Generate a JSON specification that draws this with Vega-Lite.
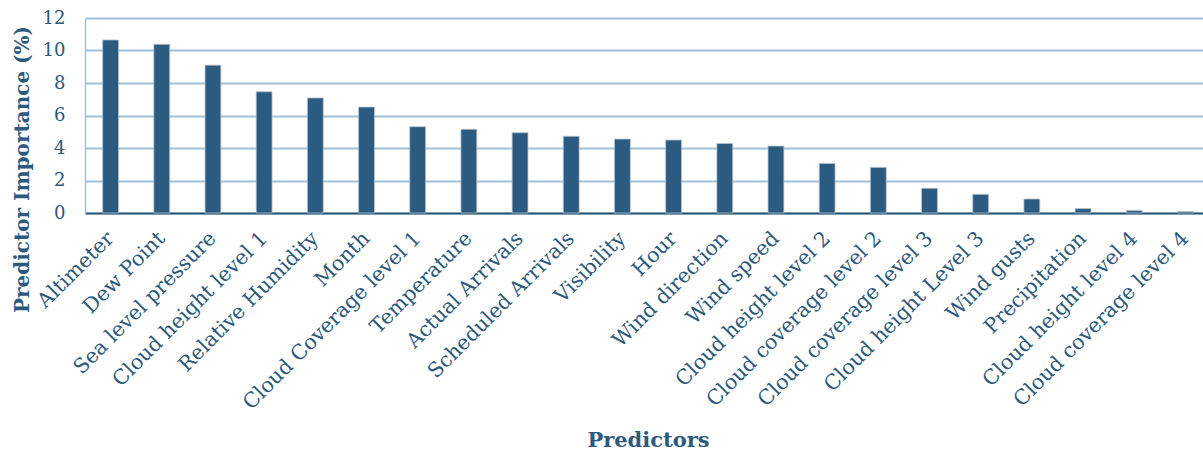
{
  "$schema": "https://vega.github.io/schema/vega-lite/v6.json",
  "width": 1126,
  "height": 195,
  "autosize": "none",
  "padding": {"left": 85, "top": 18, "right": 0, "bottom": 238},
  "background": "white",
  "config": {
    "view": {"stroke": null},
    "font": "DejaVu Serif"
  },
  "data": {
    "values": [
      {"predictor": "Altimeter", "importance": 10.65},
      {"predictor": "Dew Point", "importance": 10.38},
      {"predictor": "Sea level pressure", "importance": 9.1},
      {"predictor": "Cloud height level 1", "importance": 7.46},
      {"predictor": "Relative Humidity", "importance": 7.08},
      {"predictor": "Month", "importance": 6.52},
      {"predictor": "Cloud Coverage level 1", "importance": 5.31},
      {"predictor": "Temperature", "importance": 5.15},
      {"predictor": "Actual Arrivals", "importance": 4.94},
      {"predictor": "Scheduled Arrivals", "importance": 4.72},
      {"predictor": "Visibility", "importance": 4.55},
      {"predictor": "Hour", "importance": 4.49},
      {"predictor": "Wind direction", "importance": 4.28},
      {"predictor": "Wind speed", "importance": 4.12},
      {"predictor": "Cloud height level 2", "importance": 3.05},
      {"predictor": "Cloud coverage level 2", "importance": 2.81},
      {"predictor": "Cloud coverage level 3", "importance": 1.52},
      {"predictor": "Cloud height Level 3", "importance": 1.15},
      {"predictor": "Wind gusts", "importance": 0.86},
      {"predictor": "Precipitation", "importance": 0.27},
      {"predictor": "Cloud height level 4", "importance": 0.15},
      {"predictor": "Cloud coverage level 4", "importance": 0.09}
    ]
  },
  "mark": {"type": "bar", "color": "#2b5b80", "stroke": "#b9c2cb", "strokeWidth": 0.8},
  "encoding": {
    "x": {
      "field": "predictor",
      "type": "nominal",
      "sort": null,
      "scale": {"paddingInner": 0.69, "paddingOuter": 0.345},
      "axis": {
        "title": "Predictors",
        "titleFont": "DejaVu Serif",
        "titleFontSize": 21,
        "titleFontWeight": "bold",
        "titleColor": "#2d5a7c",
        "titleY": 227,
        "titleBaseline": "middle",
        "labelAngle": -45,
        "labelAlign": "right",
        "labelBaseline": "middle",
        "labelFontSize": 20.5,
        "labelColor": "#2b587b",
        "labelPadding": 22,
        "labelOverlap": false,
        "labelLimit": 400,
        "ticks": false,
        "domainColor": "#2b5878",
        "domainWidth": 2,
        "grid": false
      }
    },
    "y": {
      "field": "importance",
      "type": "quantitative",
      "scale": {"domain": [0, 12], "nice": false},
      "axis": {
        "title": "Predictor Importance (%)",
        "titleFont": "DejaVu Serif",
        "titleFontSize": 20,
        "titleFontWeight": "bold",
        "titleColor": "#2d5a7c",
        "titleAngle": -90,
        "titleAlign": "center",
        "titleBaseline": "middle",
        "titleX": -63,
        "titleY": 151,
        "values": [0, 2, 4, 6, 8, 10, 12],
        "labelFontSize": 18,
        "labelColor": "#2b587b",
        "labelPadding": 20,
        "ticks": false,
        "domainColor": "#a9bfd1",
        "domainWidth": 1.5,
        "grid": true,
        "gridColor": "#9fc1dc",
        "gridWidth": 2.2
      }
    }
  }
}
